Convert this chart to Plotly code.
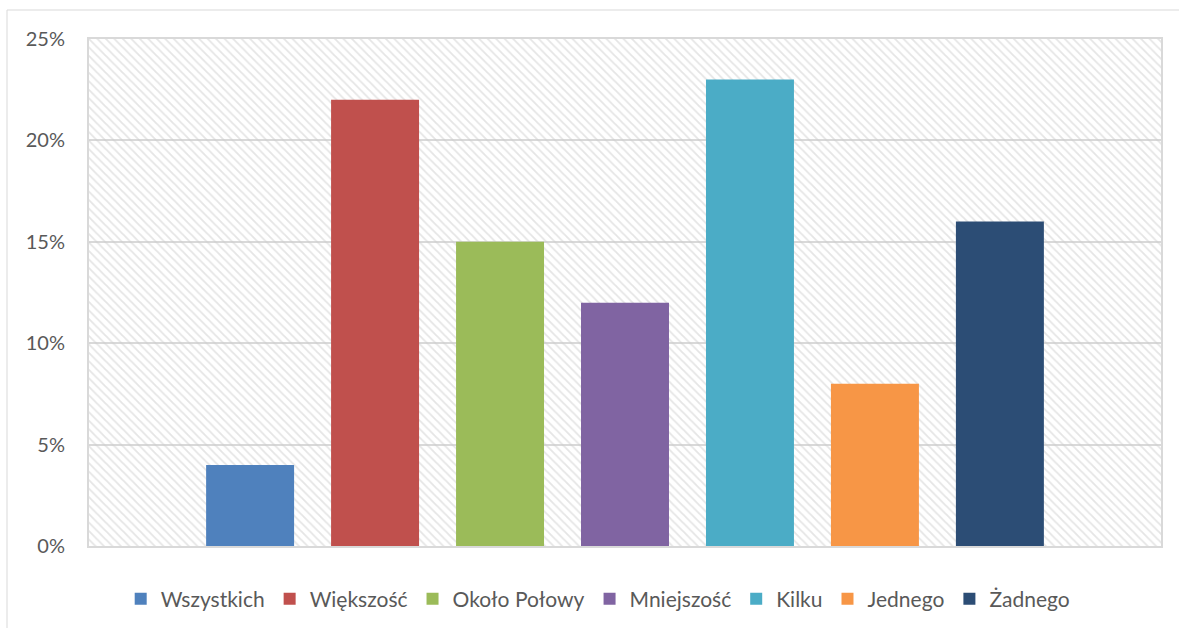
import plotly.graph_objects as go

# Survey answers (share of respondents)
answers = ["Wszystkich", "Większość", "Około Połowy", "Mniejszość", "Kilku", "Jednego", "Żadnego"]
shares = [0.04, 0.22, 0.15, 0.12, 0.23, 0.08, 0.16]
colors = ["#4F81BD", "#C0504D", "#9BBB59", "#8064A2", "#4BACC6", "#F79646", "#2C4D75"]
y_ticks = [0, 0.05, 0.10, 0.15, 0.20, 0.25]

fig = go.Figure()

# 1. Hatched plot-area background (base axes, hidden)
fig.add_trace(go.Bar(
    x=[0], y=[1], width=[1], xaxis="x", yaxis="y",
    marker=dict(color="rgba(0,0,0,0)", line=dict(width=0),
                pattern=dict(shape="\\", fgcolor="#cccccc", size=6, solidity=0.3,
                             fillmode="overlay")),
    showlegend=False, hoverinfo="skip"
))

# 2. One bar per answer, grouped in a single category
for name, val, col in zip(answers, shares, colors):
    fig.add_trace(go.Bar(
        x=[""], y=[val], name=name, xaxis="x2", yaxis="y2",
        marker=dict(color=col, line=dict(width=0))
    ))

# 3. Outer chart frame (top + left edges visible in the original)
fig.add_shape(type="line", xref="paper", yref="paper",
              x0=(7 - 89) / 1072, x1=1.02, y0=(546 - 10) / 507, y1=(546 - 10) / 507,
              line=dict(color="#d9d9d9", width=1))
fig.add_shape(type="line", xref="paper", yref="paper",
              x0=(7 - 89) / 1072, x1=(7 - 89) / 1072, y0=(546 - 10) / 507, y1=-0.2,
              line=dict(color="#d9d9d9", width=1))

fig.update_layout(
    width=1179, height=628,
    margin=dict(l=89, r=18, t=39, b=82),
    paper_bgcolor="white", plot_bgcolor="white",
    font=dict(family="Lato, 'Open Sans', sans-serif", size=20, color="#595959"),
    barmode="group", bargap=0.184, bargroupgap=0.296,
    xaxis=dict(range=[-0.5, 0.5], visible=False, fixedrange=True),
    yaxis=dict(range=[0, 1], visible=False, fixedrange=True),
    xaxis2=dict(overlaying="x", showticklabels=False, showgrid=False, zeroline=False,
                showline=True, mirror=True, linecolor="#d9d9d9", linewidth=2, ticks=""),
    yaxis2=dict(overlaying="y", range=[0, 0.25], tickvals=y_ticks, tickformat=".0%",
                showgrid=True, gridcolor="#d9d9d9", gridwidth=2, zeroline=False,
                showline=True, mirror=True, linecolor="#d9d9d9", linewidth=2,
                ticks="", ticklabelstandoff=18, tickfont=dict(size=20)),
    legend=dict(orientation="h", xref="paper", x=0.475, xanchor="center",
                yref="container", y=1 - 599 / 628, yanchor="middle",
                font=dict(size=21, color="#595959"), itemwidth=30,
                traceorder="normal"),
    showlegend=True,
)

# page body has a default margin; drop it so the chart sits at the window corner
fig.write_html("out.html", config={"displayModeBar": False},
               post_script="document.body.style.margin='0';")
